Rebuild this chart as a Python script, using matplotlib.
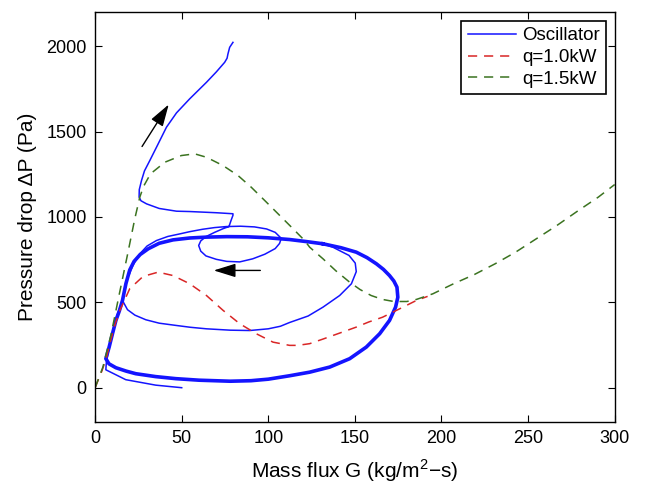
import numpy as np
import matplotlib
matplotlib.use("Agg")
import matplotlib.pyplot as plt

plt.rcParams['font.family'] = ['Liberation Sans', 'DejaVu Sans']
plt.rcParams['mathtext.fontset'] = 'custom'
plt.rcParams['mathtext.rm'] = 'Liberation Sans'

# ---------------- data ----------------
# Oscillator: transient entering the cycle
osc_in_G = [50, 35, 17.7, 6.2, 6.5, 8, 10, 12.5, 15.8, 18.7, 23, 29.3, 37, 46.6, 55, 64.3, 78, 89.3,
            100, 107, 112.3, 123, 131.6, 141.2, 148, 150.8, 150.2, 146.6, 137.3, 131.6]
osc_in_P = [0, 15, 47, 105, 150, 230, 320, 420, 511, 457, 425, 398, 378, 365, 354, 345, 337, 335,
            345, 360, 382, 420, 472, 540, 609, 680, 730, 775, 823, 843]

# Oscillator: limit cycle
cyc_G = [131.6, 122, 112.3, 100, 88, 76, 64, 54.6, 45, 37, 30.7, 26, 22.5, 20, 17.8, 15.8, 14, 12, 10,
         8.1, 6.2, 8, 12, 18, 23.5, 35, 46.6, 60, 78, 90, 100, 112.3, 123.9, 135.5, 147, 156.6, 164.3,
         170, 173.5, 174.8, 174.3, 172.5, 170, 166.5, 162.4, 157, 150.8, 142, 131.6]
cyc_P = [843, 856, 868, 878, 884, 885, 882, 877, 866, 846, 814, 780, 740, 690, 610, 511, 450, 394, 315,
         238, 170, 140, 117, 97, 82, 65, 53, 44, 38, 41, 50, 70, 91, 121, 170, 238, 316,
         394, 472, 530, 589, 625, 657, 693, 726, 762, 794, 820, 843]

# Oscillator: transient leaving the cycle
osc_out_G = [19.6, 22, 25.8, 30, 35.4, 42, 48.9, 54.6, 62, 69, 75.8, 84, 92, 99, 104, 107.5, 106.5, 104,
             98, 91, 83.5, 76, 70, 64, 61, 59.8, 61, 64, 69, 74, 77.3, 78.5, 79.6, 79.6, 70, 54.6, 47,
             37, 29.7, 26.5, 25.4, 25.5, 26.8, 28.5, 31.6, 36, 41.2, 47, 54.6, 64.3, 70, 74.8, 76.2,
             76.7, 77.7, 79.6]
osc_out_P = [660, 720, 784, 830, 862, 886, 901, 914, 928, 938, 944, 946, 942, 930, 910, 875, 845, 815,
             782, 755, 737, 740, 752, 772, 800, 833, 860, 885, 910, 932, 944, 980, 1010, 1019, 1025, 1032, 1034,
             1050, 1077, 1095, 1116, 1160, 1214, 1270, 1331, 1420, 1526, 1610, 1692, 1789, 1850, 1906, 1930,
             1955, 1994, 2023]

# q = 1.0 kW
q10_G = [0, 4, 6.6, 9, 11.5, 14.3, 20, 27.7, 36.4, 45, 54.6, 64.3, 73.9, 83.5, 93.1, 102.7, 112.3, 117,
         123.9, 131.6, 141.2, 150.8, 158, 166, 175.8, 185.5, 192]
q10_P = [0, 100, 179, 277, 370, 453, 580, 652, 677, 657, 609, 540, 453, 375, 316, 267, 248, 248,
         258, 285, 320, 355, 385, 413, 462, 511, 535]

# q = 1.5 kW
q15_G = [0, 4.5, 9.3, 14, 18.8, 22.9, 25.8, 28, 32, 40.3, 49.8, 57.5, 64.3, 73.9, 82.5, 90.2, 98.9, 106.6,
         114.3, 121, 123.9, 131.6, 139, 147, 153, 159.4, 166, 172.5, 180, 185.5, 195, 207, 219, 231, 242.8,
         254.7, 266.6, 278.5, 290.5, 300]
q15_P = [0, 121, 316, 550, 784, 989, 1116, 1180, 1253, 1321, 1360, 1370, 1350, 1301, 1243, 1174, 1087, 1009,
         931, 862, 823, 755, 685, 618, 575, 540, 517, 505, 505, 517, 550, 609, 663, 726, 794,
         872, 950, 1034, 1116, 1190]

# arrows (tail -> head)
arrow_up = ((27.1, 1413), (42.5, 1659))
arrow_left = ((95.4, 687), (68.5, 687))

xticks = [0, 50, 100, 150, 200, 250, 300]
yticks = [0, 500, 1000, 1500, 2000]

# ---------------- plot ----------------
fig = plt.figure(figsize=(6.47, 4.86), dpi=100)
ax = fig.add_axes([0.147, 0.132, 0.803, 0.843])

blue = '#1414ff'
red = '#d92626'
green = '#3b7320'

ax.plot(osc_in_G, osc_in_P, color=blue, lw=1.1, label='Oscillator')
ax.plot(cyc_G, cyc_P, color=blue, lw=2.6, solid_joinstyle='round')
ax.plot(osc_out_G, osc_out_P, color=blue, lw=1.1)
ax.plot(q10_G, q10_P, color=red, lw=1.1, ls=(0, (6, 4.5)), label='q=1.0kW')
ax.plot(q15_G, q15_P, color=green, lw=1.1, ls=(0, (6, 4.5)), label='q=1.5kW')

for (t, h) in (arrow_up, arrow_left):
    ax.annotate('', xy=h, xytext=t,
                arrowprops=dict(arrowstyle='-|>,head_length=0.9,head_width=0.28', color='black',
                                lw=1.0, shrinkA=0, shrinkB=0, mutation_scale=15))

ax.set_xlim(0, 300)
ax.set_ylim(-200, 2200)
ax.set_xticks(xticks)
ax.set_yticks(yticks)
ax.tick_params(direction='in', top=True, right=True, length=5, width=0.8, labelsize=13, pad=6)
for s in ax.spines.values():
    s.set_linewidth(1.0)

ax.set_xlabel('Mass flux G (kg/m$^2$\u2212s)', fontsize=15, labelpad=7)
ax.set_ylabel('Pressure drop \u0394P (Pa)', fontsize=15, labelpad=7)

leg = ax.legend(loc='upper right', fontsize=13.5, handlelength=2.6, fancybox=False, framealpha=1,
                edgecolor='black', borderaxespad=0.45, labelspacing=0.25, handletextpad=0.3,
                borderpad=0.35)
leg.get_frame().set_linewidth(1.2)

fig.savefig('out.png', dpi=100)
